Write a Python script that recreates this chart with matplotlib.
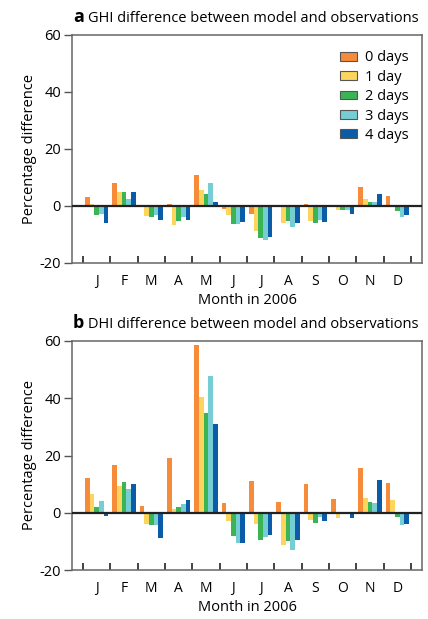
import matplotlib

matplotlib.use("Agg")
import matplotlib.pyplot as plt
import numpy as np

months = ["J", "F", "M", "A", "M", "J", "J", "A", "S", "O", "N", "D"]
lead_labels = ["0 days", "1 day", "2 days", "3 days", "4 days"]
colors = ["#F68B3A", "#FDD55C", "#3BB554", "#76CDD3", "#0A5CA8"]

# GHI percentage difference, one list per forecast lead time
ghi_0d = [3.3, 8.2, 0.0, 0.8, 11.0, -1.2, -2.9, 0.0, 0.8, 0.4, 6.8, 3.6]
ghi_1d = [0.8, 5.0, -3.6, -6.8, 5.7, -3.3, -8.9, -6.1, -5.4, -1.5, 2.6, 0.0]
ghi_2d = [-3.3, 5.0, -4.0, -5.4, 4.3, -6.4, -11.3, -5.4, -6.1, -1.5, 1.5, -1.9]
ghi_3d = [-2.8, 2.6, -3.3, -4.0, 8.2, -6.4, -12.0, -7.5, -5.0, -1.5, 1.5, -4.0]
ghi_4d = [-6.1, 5.0, -5.0, -5.0, 1.5, -5.7, -10.9, -6.1, -5.7, -2.9, 4.3, -3.3]

# DHI percentage difference
dhi_0d = [12.2, 16.7, 2.3, 19.2, 58.5, 3.4, 11.1, 3.7, 10.1, 4.8, 15.7, 10.4]
dhi_1d = [6.5, 9.4, -3.9, 1.3, 40.6, -2.8, -3.9, -11.2, -2.5, -1.8, 5.1, 4.4]
dhi_2d = [2.0, 10.8, -4.2, 2.0, 35.0, -8.1, -9.5, -9.8, -3.5, 0.0, 3.7, -1.4]
dhi_3d = [4.1, 8.3, -4.2, 3.0, 47.6, -10.5, -8.4, -13.0, -1.4, 0.0, 3.4, -4.2]
dhi_4d = [-1.1, 10.1, -8.8, 4.4, 31.1, -10.5, -7.7, -9.5, -2.8, -1.8, 11.5, -3.9]

W, H = 428, 619
plt.rcParams["font.family"] = ["Open Sans", "DejaVu Sans"]
plt.rcParams["font.size"] = 10
plt.rcParams["axes.unicode_minus"] = False

fig = plt.figure(figsize=(W / 100, H / 100), dpi=100)


def px_axes(left, top, right, bottom):
    return fig.add_axes([left / W, 1 - bottom / H, (right - left) / W, (bottom - top) / H])


def draw_panel(ax, series, letter, title, title_y, legend=False):
    x = np.arange(len(months))
    width = 0.17
    for i, (vals, col, lab) in enumerate(zip(series, colors, lead_labels)):
        ax.bar(x + (i - 2) * width, vals, width, color=col, label=lab, zorder=2, linewidth=0)
    ax.axhline(0, color="#222222", lw=1.6, zorder=3)
    ax.set_xlim(-0.9, 11.9)
    ax.set_ylim(-20, 60)
    ax.set_yticks([-20, 0, 20, 40, 60])
    # boundary ticks between months, letters centred on each month
    ax.set_xticks(np.arange(-0.5, 12), labels=[])
    ax.set_xticks(x, labels=months, minor=True)
    ax.tick_params(axis="x", which="major", direction="in", length=5, width=1.2, color="#222222")
    ax.tick_params(axis="x", which="minor", length=0, pad=8, labelsize=10)
    ax.tick_params(axis="y", direction="out", length=6, width=1.0, color="#555555", labelsize=10.5, pad=2)
    for sp in ax.spines.values():
        sp.set_color("#666666")
        sp.set_linewidth(1.1)
    ax.set_ylabel("Percentage difference", fontsize=10.5, labelpad=2)
    ax.set_xlabel("Month in 2006", fontsize=10.5, labelpad=3)
    if legend:
        leg = ax.legend(
            frameon=False, loc="upper right", bbox_to_anchor=(1.0, 0.99),
            handlelength=1.1, handleheight=0.55, handletextpad=0.6,
            labelspacing=0.3, fontsize=10.5,
        )
        for p in leg.get_patches():
            p.set_edgecolor("#555555")
            p.set_linewidth(0.8)
    t_a = fig.text(73 / W, 1 - title_y / H, letter, fontsize=13, fontweight="bold", va="baseline")
    ax.annotate(title, xy=(1, 1 - title_y / H), xycoords=(t_a, "figure fraction"),
                xytext=(3, 0), textcoords="offset points", fontsize=10.5, va="baseline")


ax_a = px_axes(72, 35, 422, 263)
draw_panel(ax_a, [ghi_0d, ghi_1d, ghi_2d, ghi_3d, ghi_4d], "a",
           "GHI difference between model and observations", 22, legend=True)

ax_b = px_axes(72, 341, 422, 570)
draw_panel(ax_b, [dhi_0d, dhi_1d, dhi_2d, dhi_3d, dhi_4d], "b",
           "DHI difference between model and observations", 328)

fig.savefig("out.png", dpi=100)
